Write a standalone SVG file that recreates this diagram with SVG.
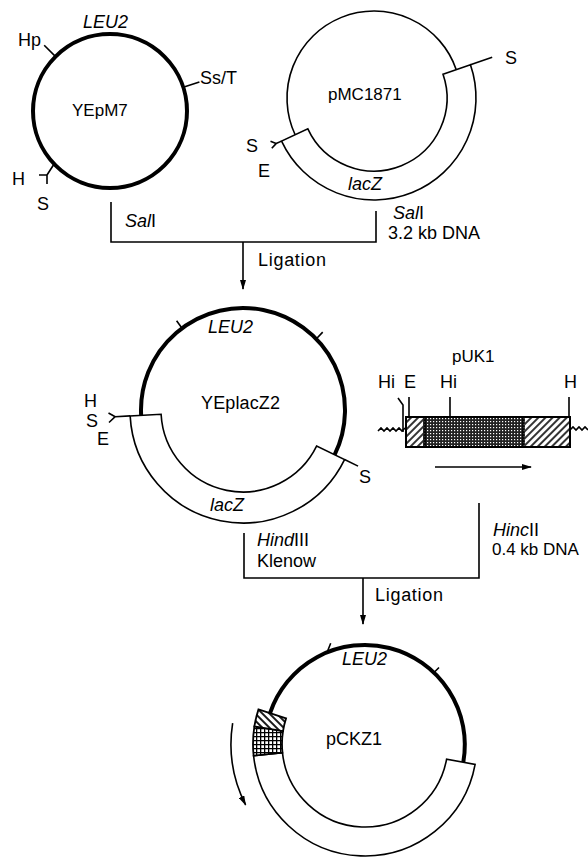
<svg xmlns="http://www.w3.org/2000/svg" width="588" height="858" viewBox="0 0 588 858">
<style>
text{font-family:"Liberation Sans",Arial,sans-serif;font-size:18px;fill:#000}
.it{font-style:italic}
.s17{font-size:17px}
.thin{fill:none;stroke:#000;stroke-width:1.6}
.thick{fill:none;stroke:#000;stroke-width:4}
.band{fill:#fff;stroke:#000;stroke-width:1.6;stroke-linejoin:miter}
.conn{fill:none;stroke:#000;stroke-width:1.6}
</style>
<defs>
<pattern id="hatchF" patternUnits="userSpaceOnUse" width="5" height="5" patternTransform="rotate(45)">
<rect width="5" height="5" fill="#fff"/><line x1="1" y1="0" x2="1" y2="5" stroke="#000" stroke-width="1.6"/>
</pattern>
<pattern id="hatchB" patternUnits="userSpaceOnUse" width="5" height="5" patternTransform="rotate(-45)">
<rect width="5" height="5" fill="#fff"/><line x1="1" y1="0" x2="1" y2="5" stroke="#000" stroke-width="1.8"/>
</pattern>
<pattern id="stip" patternUnits="userSpaceOnUse" width="3" height="3">
<rect width="3" height="3" fill="#222"/><rect x="1" y="1" width="1.2" height="1.2" fill="#fff"/>
</pattern>
<pattern id="grid" patternUnits="userSpaceOnUse" width="4" height="4">
<rect width="4" height="4" fill="#fff"/><path d="M0,0.6H4M0.6,0V4" stroke="#000" stroke-width="1.4"/>
</pattern>
<marker id="ah" viewBox="0 0 10 6" refX="9" refY="3" markerWidth="10" markerHeight="6" markerUnits="userSpaceOnUse" orient="auto">
<path d="M0,0L10,3L0,6z" fill="#000"/>
</marker>
</defs>

<g id="YEpM7">
<circle class="thick" cx="110" cy="111" r="77"/>
<path class="thin" d="M55.6,56.6L44.2,45.2M183.2,87.2L199.4,81.9M54.1,164L47,175M39,175H47V184"/>
<text class="it" x="83" y="28">LEU2</text>
<text x="18" y="46">Hp</text>
<text x="200" y="84">Ss/T</text>
<text class="s17" x="72" y="116">YEpM7</text>
<text x="12" y="185">H</text>
<text x="37" y="210">S</text>
</g>

<g id="pMC1871">
<path class="thin" d="M295.15,134.77A87,87 0 1 1 456.26,69.67"/>
<path class="band" d="M443.02,74.23A73,73 0 0 1 307.84,128.85L281.56,141.11A102,102 0 0 0 470.44,64.79Z"/>
<path class="thin" d="M470.44,64.79L492.2,57.3M281.56,141.11L276.1,143.6M276.1,143.6L270.5,141.2M276.1,143.6L271.8,148.3"/>
<text class="s17" x="328" y="100">pMC1871</text>
<text class="it" x="348" y="190">lacZ</text>
<text x="505" y="64">S</text>
<text x="246" y="152">S</text>
<text x="258" y="177">E</text>
</g>

<g id="connectors">
<path class="conn" d="M111,202V242H376V211"/>
<path class="conn" d="M243,242V289" marker-end="url(#ah)"/>
<path class="conn" d="M244,533V578H479V503"/>
<path class="conn" d="M363,578V624" marker-end="url(#ah)"/>
<path class="thin" stroke-width="2.2" d="M232.65,723.04A134,134 0 0 0 245.6,804.8" marker-end="url(#ah)"/>
</g>

<g id="step1-labels">
<text x="125" y="227"><tspan class="it">Sal</tspan>I</text>
<text x="393" y="219"><tspan class="it">Sal</tspan>I</text>
<text x="388" y="239">3.2 kb DNA</text>
<text x="258" y="266" textLength="68">Ligation</text>
</g>

<g id="YEplacZ2">
<path class="thick" d="M141.14,415.34A102,102 0 1 1 334.68,454.72"/>
<path class="band" d="M316.70,445.95A82,82 0 0 1 161.11,414.29L130.15,415.91A113,113 0 0 0 344.56,459.54Z"/>
<path class="thin" d="M344.56,459.54L358.05,466.12M130.15,415.91L115.2,416.7M115.2,416.7L108.5,413M115.2,416.7L109,422.5"/>
<path class="thin" stroke-width="2" d="M181.5,327.5L176.6,320.7M316.9,338.3L322.7,332.1"/>
<text class="it" x="208" y="333">LEU2</text>
<text x="201" y="409" textLength="79">YEplacZ2</text>
<text x="84" y="407">H</text>
<text x="86" y="427">S</text>
<text x="97" y="445">E</text>
<text x="359" y="483">S</text>
<text class="it" x="210" y="511">lacZ</text>
</g>

<g id="pUK1">
<rect x="406" y="417" width="17" height="30" fill="url(#hatchF)"/>
<rect x="423" y="417" width="102" height="30" fill="url(#stip)"/>
<rect x="525" y="417" width="45" height="30" fill="url(#hatchF)"/>
<rect x="406" y="417" width="164" height="30" fill="none" stroke="#000" stroke-width="2"/>
<path class="thin" d="M523,417V447M425,417V447"/>
<path class="thin" d="M378,431l3,-3l3,3l3,-3l3,3l3,-3l3,3l3,-3l3,3l3,-3M570,430l3,-3l3,3l3,-3l3,3l3,-3l3,3"/>
<path class="thin" d="M409,397V417M450,397V417M569,397V417M398,398L403,405V432"/>
<path class="thin" stroke-width="2.6" d="M435,467H531" marker-end="url(#ah)"/>
<text class="s17" x="452" y="362">pUK1</text>
<text x="378" y="388">Hi</text>
<text x="404" y="388">E</text>
<text x="440" y="388">Hi</text>
<text x="564" y="388">H</text>
</g>

<g id="step2-labels">
<text x="257" y="546"><tspan class="it">Hind</tspan>III</text>
<text x="257" y="567">Klenow</text>
<text x="493" y="536"><tspan class="it">Hinc</tspan>II</text>
<text class="s17" x="492" y="555">0.4 kb DNA</text>
<text x="375" y="601" textLength="68">Ligation</text>
</g>

<g id="pCKZ1">
<path class="thick" d="M270.03,713.10A100,100 0 0 1 463.32,762.22"/>
<path class="band" d="M446.61,759.13A83,83 0 0 1 282.45,752.68L253.61,755.71A112,112 0 0 0 475.12,764.41Z"/>
<path d="M282.45,752.68A83,83 0 0 1 283.02,731.02L254.38,726.48A112,112 0 0 0 253.61,755.71Z" fill="url(#grid)" stroke="#000" stroke-width="1.8"/>
<path d="M283.02,731.02A83,83 0 0 1 286.06,718.35L258.48,709.39A112,112 0 0 0 254.38,726.48Z" fill="url(#hatchB)" stroke="#000" stroke-width="1.8"/>
<path class="thin" stroke-width="2" d="M327.5,651.3L330.7,643.3M434.5,672L439,667.5"/>
<text class="it" x="342" y="665">LEU2</text>
<text x="326" y="745">pCKZ1</text>
</g>
</svg>
